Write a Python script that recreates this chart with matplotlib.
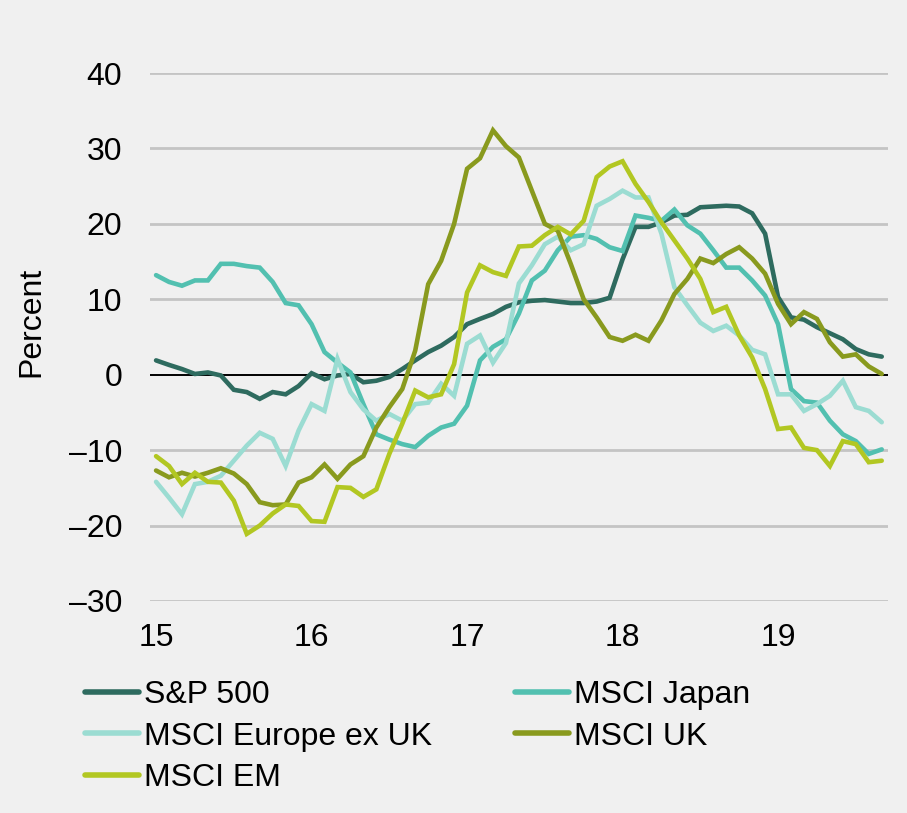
import matplotlib
matplotlib.use("Agg")
import matplotlib.pyplot as plt
import numpy as np

# Monthly data, Jan 2015 (x=15) to Sep 2019
start_year = 15
sp500 = [1.9, 1.3, 0.75, 0.1, 0.3, -0.1, -2.0, -2.3, -3.2, -2.3, -2.6, -1.5,
         0.2, -0.6, -0.1, 0.1, -1.0, -0.8, -0.3, 0.75, 1.9, 3.0, 3.85, 5.0,
         6.7, 7.4, 8.05, 9.0, 9.6, 9.8, 9.9, 9.7, 9.5, 9.5, 9.7, 10.2,
         15.3, 19.6, 19.6, 20.2, 21.1, 21.2, 22.2, 22.3, 22.4, 22.3, 21.4, 18.7,
         10.3, 7.6, 7.3, 6.3, 5.5, 4.7, 3.4, 2.7, 2.4]
japan = [13.2, 12.3, 11.8, 12.5, 12.5, 14.7, 14.7, 14.4, 14.2, 12.3, 9.5, 9.2,
         6.7, 3.0, 1.6, 0.3, -3.9, -7.9, -8.6, -9.2, -9.6, -8.1, -7.0, -6.5,
         -4.1, 1.9, 3.7, 4.7, 8.1, 12.5, 13.8, 16.5, 18.3, 18.5, 18.0, 16.9,
         16.4, 21.1, 20.8, 20.4, 21.9, 19.8, 18.7, 16.5, 14.2, 14.2, 12.5, 10.5,
         6.7, -1.9, -3.5, -3.7, -6.1, -7.9, -8.8, -10.5, -9.9]
europe = [-14.2, -16.3, -18.5, -14.5, -14.2, -13.4, -11.4, -9.4, -7.7, -8.5, -12.1, -7.4,
          -3.9, -4.8, 2.1, -2.3, -4.6, -6.1, -5.2, -6.1, -3.9, -3.7, -1.2, -2.8,
          4.1, 5.2, 1.6, 4.2, 12.1, 14.5, 17.3, 18.3, 16.5, 17.3, 22.4, 23.3,
          24.4, 23.5, 23.5, 18.7, 11.6, 9.2, 6.9, 5.8, 6.5, 5.2, 3.3, 2.7,
          -2.6, -2.6, -4.8, -3.9, -2.8, -0.8, -4.3, -4.8, -6.3]
uk = [-12.7, -13.6, -13.0, -13.5, -13.0, -12.4, -13.1, -14.5, -16.9, -17.3, -17.2, -14.3,
      -13.6, -11.9, -13.8, -11.9, -10.8, -7.0, -4.3, -1.9, 3.2, 12.0, 15.1, 20.0,
      27.3, 28.7, 32.4, 30.3, 28.8, 24.4, 20.0, 19.1, 14.7, 10.0, 7.6, 5.0,
      4.5, 5.3, 4.5, 7.2, 10.7, 12.7, 15.4, 14.8, 16.0, 16.9, 15.4, 13.4,
      9.4, 6.7, 8.3, 7.4, 4.3, 2.4, 2.7, 1.1, 0.1]
em = [-10.8, -12.1, -14.5, -13.0, -14.2, -14.3, -16.7, -21.1, -20.0, -18.4, -17.2, -17.4,
      -19.4, -19.5, -14.9, -15.0, -16.2, -15.2, -10.5, -6.5, -2.1, -3.0, -2.6, 1.4,
      10.9, 14.5, 13.6, 13.1, 17.0, 17.1, 18.5, 19.6, 18.6, 20.4, 26.2, 27.6,
      28.3, 25.3, 22.9, 20.2, 17.8, 15.4, 12.7, 8.3, 9.0, 5.2, 2.3, -1.9,
      -7.2, -7.0, -9.7, -10.0, -12.1, -8.8, -9.2, -11.6, -11.4]

series_names = ["S&P 500", "MSCI Japan", "MSCI Europe ex UK", "MSCI UK", "MSCI EM"]
series_values = [sp500, japan, europe, uk, em]
series_colors = ["#2e6b5f", "#52c0b0", "#9bdcd2", "#899a1e", "#b2c722"]

x_ticks = [15, 16, 17, 18, 19]
x_ticklabels = ["15", "16", "17", "18", "19"]
y_ticks = [-30, -20, -10, 0, 10, 20, 30, 40]
y_ticklabels = ["\u201330", "\u201320", "\u201310", "0", "10", "20", "30", "40"]

plt.rcParams['font.family'] = ['Liberation Sans', 'DejaVu Sans']
FS = 23
W, H = 907, 813
bg = "#f0f0f0"
fig = plt.figure(figsize=(W / 100, H / 100), dpi=100, facecolor=bg)
ax_l, ax_r, ax_t, ax_b = 150, 888, 73, 601
ax = fig.add_axes([ax_l / W, 1 - ax_b / H, (ax_r - ax_l) / W, (ax_b - ax_t) / H],
                  facecolor=bg)

n = len(sp500)
x = start_year + np.arange(n) / 12.0

ax.set_ylim(-30, 40)
ax.set_xlim(14.961, 19.707)
for yv in y_ticks:
    if yv != 0:
        ax.axhline(yv, color="#c4c4c4", lw=2.0, zorder=1)
ax.axhline(0, color="black", lw=1.4, zorder=2)

handles = {}
for name, vals, col in zip(series_names, series_values, series_colors):
    h, = ax.plot(x, vals, color=col, lw=3.3, solid_capstyle='round',
                 solid_joinstyle='miter', zorder=3, label=name)
    handles[name] = h

for s in ax.spines.values():
    s.set_visible(False)
ax.set_xticks(x_ticks)
ax.set_xticklabels(x_ticklabels)
ax.set_yticks(y_ticks)
ax.set_yticklabels(y_ticklabels)
ax.tick_params(axis='both', length=0, labelsize=FS, colors="black")
ax.tick_params(axis='x', pad=16)
ax.tick_params(axis='y', pad=20)
fig.text(31 / W, 1 - 322 / H, "Percent", rotation=90, ha='center', va='center',
         fontsize=FS)

order = ["S&P 500", "MSCI Europe ex UK", "MSCI EM", "MSCI Japan", "MSCI UK"]
leg = fig.legend([handles[k] for k in order], order, ncol=2,
                 loc="upper left", bbox_to_anchor=(85 / W, 1 - 680 / H),
                 frameon=False, fontsize=FS, handlelength=1.69,
                 handletextpad=0.16, columnspacing=2.6, labelspacing=0.36,
                 borderaxespad=0, borderpad=0)
for lh in leg.get_lines():
    lh.set_linewidth(4)

fig.savefig("out.png", dpi=100, facecolor=bg)
